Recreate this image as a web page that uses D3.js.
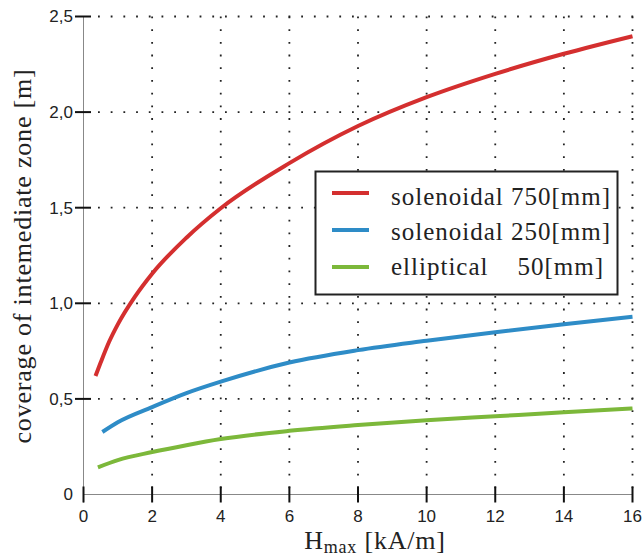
<!DOCTYPE html>
<html>
<head>
<meta charset="utf-8">
<script src="https://cdn.jsdelivr.net/npm/d3@7"></script>
<style>
  body { margin: 0; background: #fff; }
  svg { display: block; }
  .tick-label { font-family: "Liberation Sans", Arial, sans-serif; font-size: 17px; fill: #222; }
  .serif { font-family: "Liberation Serif", "DejaVu Serif", serif; font-size: 25px; letter-spacing: 1px; fill: #222; }
  .title { font-size: 26px; letter-spacing: 0.8px; }
</style>
</head>
<body>
<div id="chart"></div>
<script>
// values
const redX   = [0.35, 0.5, 0.75, 1, 1.5, 2, 3, 4, 6, 8, 10, 12, 14, 16];
const redY   = [0.62, 0.69, 0.80, 0.89, 1.035, 1.155, 1.343, 1.497, 1.733, 1.927, 2.078, 2.20, 2.305, 2.397];
const blueX  = [0.55, 1, 2, 3, 4, 6, 8, 10, 12, 14, 16];
const blueY  = [0.327, 0.378, 0.457, 0.53, 0.59, 0.69, 0.755, 0.804, 0.849, 0.891, 0.93];
const greenX = [0.42, 1, 2, 3, 4, 6, 8, 10, 12, 14, 16];
const greenY = [0.142, 0.18, 0.222, 0.258, 0.29, 0.333, 0.363, 0.388, 0.409, 0.43, 0.45];

const seriesNames = ["solenoidal 750[mm]", "solenoidal 250[mm]", "elliptical    50[mm]"];
const seriesColors = ["#d42f2f", "#2e8cc7", "#7cb83a"];

const xTicks = [0, 2, 4, 6, 8, 10, 12, 14, 16];
const yTicks = [0, 0.5, 1.0, 1.5, 2.0, 2.5];
const yTickLabels = ["0", "0,5", "1,0", "1,5", "2,0", "2,5"];

const W = 644, H = 556;
const svg = d3.select("#chart").append("svg")
  .attr("width", W)
  .attr("height", H);

const x = d3.scaleLinear().domain([0, 16]).range([83.5, 632.5]);
const y = d3.scaleLinear().domain([0, 2.5]).range([494.5, 16.5]);

// dotted grid
const grid = svg.append("g")
  .attr("stroke", "#222")
  .attr("stroke-width", 1.8)
  .attr("stroke-dasharray", "1.8 10.9");

grid.selectAll(".vgrid")
  .data(xTicks.filter(d => d > 0))
  .enter().append("line")
  .attr("x1", d => x(d)).attr("x2", d => x(d))
  .attr("y1", y(2.5)).attr("y2", y(0));

grid.selectAll(".hgrid")
  .data(yTicks.filter(d => d > 0))
  .enter().append("line")
  .attr("x1", 98).attr("x2", x(16) + 2)
  .attr("y1", d => y(d)).attr("y2", d => y(d));

// axis lines
svg.append("line")
  .attr("x1", x(0)).attr("x2", x(0))
  .attr("y1", y(2.5)).attr("y2", y(0) + 8)
  .attr("stroke", "#888").attr("stroke-width", 1);
svg.append("line")
  .attr("x1", x(0)).attr("x2", x(16))
  .attr("y1", y(0)).attr("y2", y(0))
  .attr("stroke", "#888").attr("stroke-width", 1);

// ticks
svg.selectAll(".ytick")
  .data(yTicks.filter(d => d > 0))
  .enter().append("line")
  .attr("x1", 75).attr("x2", 91)
  .attr("y1", d => y(d)).attr("y2", d => y(d))
  .attr("stroke", "#111").attr("stroke-width", 2);

svg.selectAll(".xtick")
  .data(xTicks)
  .enter().append("line")
  .attr("x1", d => x(d)).attr("x2", d => x(d))
  .attr("y1", y(0) - 8).attr("y2", y(0) + 8)
  .attr("stroke", "#111").attr("stroke-width", 2);

svg.selectAll(".ylab")
  .data(yTicks)
  .enter().append("text")
  .attr("class", "tick-label")
  .attr("x", 73)
  .attr("y", d => y(d))
  .attr("dy", "0.35em")
  .attr("text-anchor", "end")
  .text((d, i) => yTickLabels[i]);

svg.selectAll(".xlab")
  .data(xTicks)
  .enter().append("text")
  .attr("class", "tick-label")
  .attr("x", d => x(d))
  .attr("y", 522)
  .attr("text-anchor", "middle")
  .text(d => d);

// curves
const line = d3.line()
  .x(d => x(d[0]))
  .y(d => y(d[1]))
  .curve(d3.curveMonotoneX);

const series = [
  d3.zip(redX, redY),
  d3.zip(blueX, blueY),
  d3.zip(greenX, greenY)
];

svg.selectAll(".curve")
  .data(series)
  .enter().append("path")
  .attr("fill", "none")
  .attr("stroke", (d, i) => seriesColors[i])
  .attr("stroke-width", 4)
  .attr("d", line);

// legend
const legend = svg.append("g");
legend.append("rect")
  .attr("x", 315.5).attr("y", 171.5)
  .attr("width", 302).attr("height", 123)
  .attr("fill", "#fff")
  .attr("stroke", "#222")
  .attr("stroke-width", 2);

seriesNames.forEach((name, i) => {
  legend.append("line")
    .attr("x1", 332).attr("x2", 369)
    .attr("y1", 193 + i * 37).attr("y2", 193 + i * 37)
    .attr("stroke", seriesColors[i])
    .attr("stroke-width", 4);
  legend.append("text")
    .attr("class", "serif")
    .attr("x", 391)
    .attr("y", 205 + i * 35)
    .style("white-space", "pre")
    .text(name);
});

// axis titles
const xTitle = svg.append("text")
  .attr("class", "serif title")
  .attr("x", 375)
  .attr("y", 549)
  .attr("text-anchor", "middle");
xTitle.append("tspan").text("H");
xTitle.append("tspan").attr("dy", 4).style("font-size", "18px").text("max");
xTitle.append("tspan").attr("dy", -4).text(" [kA/m]");

svg.append("text")
  .attr("class", "serif title")
  .attr("transform", "translate(31,256) rotate(-90)")
  .attr("text-anchor", "middle")
  .text("coverage of intemediate zone [m]");
</script>
</body>
</html>
